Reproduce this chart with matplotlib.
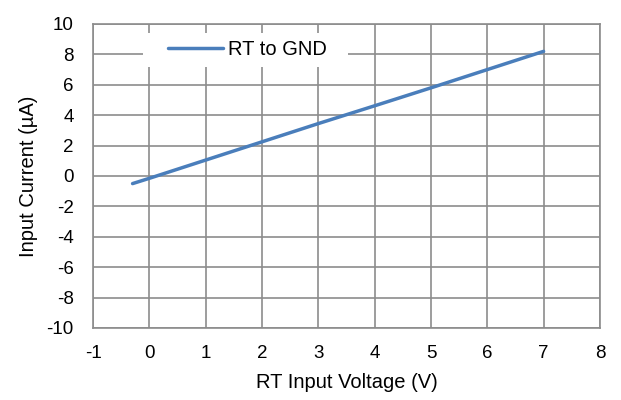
import matplotlib
matplotlib.use("Agg")
import matplotlib.pyplot as plt
from matplotlib.patches import Rectangle

# RT pin input current vs applied voltage
rt_voltage = [-0.3, 0, 1, 2, 3, 4, 5, 6, 7]
rt_current = [-0.5, -0.15, 1.05, 2.25, 3.45, 4.62, 5.8, 7.0, 8.2]

x_ticks = list(range(-1, 9))
y_ticks = list(range(-10, 11, 2))

plt.rcParams['font.family'] = ['Liberation Sans', 'DejaVu Sans']
plt.rcParams['axes.unicode_minus'] = False

fig = plt.figure(figsize=(6.21, 4.0), dpi=100)
ax = fig.add_axes([0.150, 0.18, 0.816, 0.76])

ax.plot(rt_voltage, rt_current, color="#4a7ebb", linewidth=2.5,
        solid_capstyle="round", label="RT to GND")

ax.set_xlim(-1, 8)
ax.set_ylim(-10, 10)
ax.set_xticks(x_ticks)
ax.set_yticks(y_ticks)
ax.tick_params(labelsize=13.5, length=0, colors="black")
ax.tick_params(axis="y", pad=14)
ax.tick_params(axis="x", pad=12)
ax.grid(True, color="#8c8c8c", linewidth=1.2)
ax.set_axisbelow(True)
for s in ax.spines.values():
    s.set_color("#8c8c8c")
    s.set_linewidth(1.2)

ax.set_xlabel("RT Input Voltage (V)", fontsize=14.5, labelpad=8)
ax.set_ylabel("Input Current (µA)", fontsize=14.5, labelpad=6)

# white box behind the legend, covering the grid
ax.add_patch(Rectangle((0.099, 0.859), 0.404, 0.111, transform=ax.transAxes,
                       facecolor="white", edgecolor="none", zorder=2))
ax.legend(loc="center left", bbox_to_anchor=(0.148, 0.915), fontsize=14.5,
          frameon=False, handlelength=2.7, borderpad=0, borderaxespad=0,
          handletextpad=0.25)

fig.savefig("out.png", dpi=100)
